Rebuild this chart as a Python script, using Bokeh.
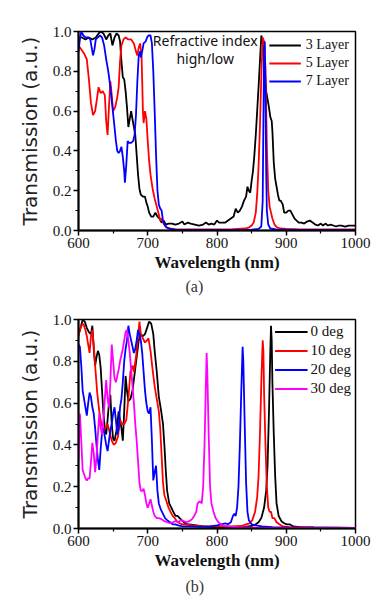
from bokeh.plotting import figure
from bokeh.layouts import column
from bokeh.models import (FixedTicker, PrintfTickFormatter, Legend, LegendItem,
                          Label, Title, Range1d)
from bokeh.embed import file_html
from bokeh.resources import INLINE

# ---------------- data: panel (a) ----------------
a_black_x = [600,605,610,615,620,625,629,632,636,640,643,646,649,652,655,658,660,662,664,666,668,670,672,674,676,678,680,682,684,686,688,690,693,696,698,700,702,705,708,711,714,717,720,723,726,730,735,740,745,750,753,758,762,768,774,780,784,788,792,796,800,803,808,812,816,820,824,827,830,833,836,839,842,844,846,848,850,852,854,856,858,860,862,864,865,867,869,871,873,875,877,879,880,882,884,886,888,890,892,895,897,900,903,906,909,912,915,918,922,926,930,934,938,942,946,950,953,957,960,964,968,972,976,980,985,990,995,1000]
a_black_y = [0.97,0.97,0.96,0.97,0.96,0.97,0.99,1.0,0.99,0.96,0.98,0.99,0.93,0.97,0.99,0.98,0.95,0.85,0.77,0.76,0.70,0.62,0.52,0.56,0.60,0.56,0.52,0.48,0.38,0.28,0.21,0.18,0.17,0.17,0.14,0.12,0.09,0.07,0.07,0.09,0.07,0.06,0.04,0.05,0.03,0.035,0.035,0.03,0.035,0.045,0.03,0.04,0.035,0.03,0.025,0.03,0.04,0.03,0.035,0.03,0.05,0.04,0.04,0.04,0.05,0.06,0.07,0.11,0.09,0.10,0.12,0.15,0.17,0.22,0.20,0.19,0.25,0.30,0.38,0.48,0.60,0.72,0.85,0.98,0.96,0.92,0.80,0.70,0.66,0.62,0.57,0.55,0.50,0.34,0.26,0.22,0.18,0.15,0.15,0.13,0.09,0.09,0.10,0.10,0.08,0.06,0.05,0.04,0.04,0.035,0.045,0.05,0.04,0.03,0.025,0.035,0.025,0.035,0.025,0.03,0.025,0.02,0.025,0.025,0.02,0.025,0.025,0.025]

a_red_x = [600,604,608,612,615,618,621,624,627,629,632,635,638,640,642,644,646,648,650,653,656,658,660,662,665,668,672,676,680,683,685,687,689,691,692,693,694,696,698,700,702,704,707,710,713,716,718,720,722,725,728,732,740,760,800,820,830,840,846,850,853,856,858,860,862,864,866,868,870,871,872,874,876,878,880,883,887,892,900,920,950,1000]
a_red_y = [0.93,0.91,0.89,0.86,0.76,0.64,0.58,0.60,0.67,0.72,0.69,0.70,0.68,0.55,0.48,0.62,0.75,0.68,0.60,0.62,0.67,0.72,0.85,0.93,0.96,0.97,0.96,0.96,0.94,0.90,0.88,0.92,0.94,0.88,0.75,0.60,0.54,0.60,0.56,0.45,0.35,0.28,0.21,0.16,0.12,0.08,0.05,0.06,0.04,0.025,0.015,0.01,0.005,0.005,0.005,0.005,0.008,0.01,0.015,0.025,0.04,0.09,0.18,0.32,0.52,0.78,0.97,0.95,0.82,0.62,0.42,0.20,0.12,0.09,0.06,0.03,0.015,0.01,0.008,0.005,0.005,0.005]

a_blue_x = [600,602,604,607,610,614,617,619,621,623,625,628,631,634,637,640,643,646,649,652,654,656,658,660,662,664,666,667,669,671,673,676,679,681,683,685,687,689,690,692,694,697,699,701,704,706,708,710,712,714,716,718,720,722,724,727,732,740,780,820,850,860,864,866,867,868,869,870,871,872,874,877,885,920,1000]
a_blue_y = [0.90,0.96,1.0,0.98,0.97,0.97,0.96,0.92,0.88,0.91,0.96,0.97,0.98,0.97,0.93,0.86,0.80,0.72,0.62,0.52,0.45,0.40,0.39,0.40,0.42,0.37,0.30,0.24,0.33,0.45,0.44,0.44,0.45,0.48,0.58,0.75,0.88,0.90,0.87,0.90,0.94,0.95,0.97,0.98,0.98,0.94,0.80,0.60,0.38,0.20,0.13,0.11,0.10,0.05,0.03,0.015,0.008,0.004,0.003,0.003,0.004,0.008,0.02,0.15,0.55,0.90,0.95,0.70,0.30,0.10,0.03,0.01,0.005,0.003,0.003]

a_labels = ["3 Layer", "5 Layer", "7 Layer"]

# ---------------- data: panel (b) ----------------
b_0_x = [600,603,606,609,612,615,618,620,622,624,626,628,630,632,634,636,638,640,642,644,646,648,650,652,655,658,660,662,664,666,668,670,672,675,678,681,684,687,690,693,696,699,702,705,708,710,713,716,719,722,724,726,728,731,734,737,740,743,746,749,752,756,760,770,780,790,800,820,840,850,856,860,864,868,871,873,875,877,878,879,880,882,884,886,889,893,897,901,905,910,920,940,1000]
b_0_y = [0.93,0.96,1.0,0.99,0.96,0.94,0.93,0.97,0.86,0.78,0.82,0.85,0.83,0.77,0.66,0.55,0.48,0.45,0.52,0.60,0.64,0.50,0.43,0.42,0.47,0.56,0.52,0.48,0.42,0.56,0.73,0.66,0.61,0.62,0.66,0.74,0.82,0.90,0.93,0.92,0.93,0.96,0.99,0.98,0.93,0.85,0.75,0.63,0.57,0.50,0.40,0.28,0.18,0.12,0.10,0.08,0.06,0.06,0.05,0.04,0.03,0.02,0.02,0.015,0.01,0.008,0.006,0.006,0.008,0.012,0.02,0.03,0.05,0.10,0.18,0.30,0.55,0.85,0.97,0.90,0.70,0.45,0.25,0.12,0.06,0.035,0.025,0.02,0.02,0.01,0.006,0.005,0.003]

b_10_x = [600,602,604,607,610,612,614,616,618,620,622,624,627,630,633,636,639,642,645,648,651,654,657,660,663,666,669,672,675,678,680,683,686,688,690,693,696,699,701,704,707,710,713,716,718,720,722,724,727,730,733,736,739,742,746,750,755,765,780,800,820,835,842,847,851,855,858,860,862,864,866,867,868,870,872,874,876,878,880,883,886,890,895,905,940,1000]
b_10_y = [0.92,0.95,0.97,0.98,0.95,0.92,0.88,0.84,0.92,0.95,0.88,0.78,0.65,0.56,0.50,0.47,0.48,0.50,0.46,0.42,0.40,0.41,0.44,0.52,0.50,0.50,0.52,0.62,0.75,0.78,0.75,0.82,0.92,0.99,0.93,0.91,0.89,0.90,0.91,0.85,0.76,0.68,0.62,0.56,0.48,0.35,0.22,0.16,0.13,0.10,0.08,0.06,0.05,0.035,0.025,0.02,0.02,0.015,0.01,0.01,0.01,0.012,0.02,0.025,0.04,0.08,0.15,0.25,0.45,0.70,0.90,0.85,0.65,0.40,0.20,0.10,0.08,0.08,0.05,0.05,0.03,0.02,0.01,0.006,0.004,0.003]

b_20_x = [600,602,604,606,609,612,614,616,618,620,622,624,626,628,630,632,634,636,638,640,642,644,646,648,650,652,654,656,658,660,662,664,666,668,670,672,674,676,678,680,682,684,686,688,690,692,694,696,698,700,702,704,706,708,710,712,714,716,719,722,725,728,732,736,740,744,750,760,775,790,800,806,812,816,820,823,825,827,829,831,833,835,837,838,840,842,844,846,850,856,865,880,900,1000]
b_20_y = [0.88,0.87,0.78,0.66,0.60,0.54,0.60,0.65,0.63,0.58,0.55,0.48,0.40,0.33,0.28,0.38,0.46,0.48,0.44,0.40,0.37,0.42,0.47,0.50,0.55,0.58,0.52,0.45,0.48,0.58,0.62,0.70,0.80,0.86,0.90,0.97,0.93,0.90,0.87,0.84,0.86,0.90,0.95,0.93,0.90,0.84,0.75,0.66,0.60,0.56,0.55,0.58,0.42,0.23,0.27,0.30,0.18,0.12,0.09,0.07,0.05,0.04,0.03,0.02,0.02,0.015,0.01,0.01,0.008,0.01,0.015,0.02,0.025,0.02,0.03,0.06,0.07,0.06,0.10,0.20,0.40,0.65,0.87,0.80,0.50,0.22,0.08,0.04,0.02,0.015,0.01,0.006,0.005,0.003]

b_30_x = [600,601,602,604,606,608,610,612,614,616,618,620,622,624,626,628,630,632,634,636,638,640,642,644,646,648,650,652,654,656,658,660,662,664,666,668,670,672,674,676,678,680,682,684,686,688,690,692,694,696,698,700,702,704,706,708,710,713,716,720,724,728,732,736,740,744,748,752,756,760,764,767,770,772,775,778,780,782,784,785,786,788,790,792,795,798,802,808,815,830,860,1000]
b_30_y = [0.33,0.45,0.55,0.42,0.28,0.26,0.24,0.23,0.24,0.24,0.32,0.41,0.36,0.27,0.34,0.45,0.55,0.48,0.45,0.52,0.62,0.71,0.62,0.58,0.70,0.88,0.80,0.72,0.70,0.73,0.76,0.80,0.83,0.86,0.90,0.94,0.95,0.90,0.84,0.76,0.68,0.60,0.50,0.42,0.32,0.22,0.18,0.18,0.19,0.16,0.12,0.10,0.12,0.14,0.11,0.08,0.06,0.05,0.05,0.045,0.035,0.03,0.025,0.03,0.035,0.03,0.04,0.035,0.03,0.035,0.045,0.06,0.08,0.12,0.13,0.12,0.20,0.40,0.70,0.84,0.75,0.45,0.20,0.12,0.08,0.05,0.03,0.015,0.01,0.006,0.004,0.003]

b_labels = ["0 deg", "10 deg", "20 deg", "30 deg"]

x_ticks = [600, 700, 800, 900, 1000]
x_minor = [650, 750, 850, 950]
y_ticks = [0.0, 0.2, 0.4, 0.6, 0.8, 1.0]
y_minor = [0.1, 0.3, 0.5, 0.7, 0.9]

SERIF = "Liberation Serif"


def make_fig(width, height, left, right, top, bottom):
    p = figure(width=width, height=height,
               x_range=Range1d(600, 1000), y_range=Range1d(0, 1.0),
               output_backend="svg", toolbar_location=None,
               min_border_left=left, min_border_right=right,
               min_border_top=top, min_border_bottom=bottom)
    p.xgrid.visible = False
    p.ygrid.visible = False
    p.outline_line_color = "black"
    p.outline_line_width = 1.5
    p.outline_line_alpha = 1.0
    p.axis.axis_line_width = 2
    p.axis.axis_line_color = "black"
    p.axis.major_tick_out = 5
    p.axis.major_tick_in = 0
    p.axis.minor_tick_out = 3
    p.axis.minor_tick_in = 0
    p.axis.major_tick_line_width = 1.5
    p.axis.minor_tick_line_width = 1.2
    p.axis.major_tick_line_color = "black"
    p.axis.minor_tick_line_color = "black"
    p.axis.major_label_text_font = SERIF
    p.axis.major_label_text_font_size = "15px"
    p.axis.major_label_text_color = "#111111"
    p.axis.major_label_standoff = 2
    p.xaxis.ticker = FixedTicker(ticks=x_ticks, minor_ticks=x_minor)
    p.yaxis.ticker = FixedTicker(ticks=y_ticks, minor_ticks=y_minor)
    p.yaxis.formatter = PrintfTickFormatter(format="%.1f")
    p.xaxis.axis_label = "Wavelength (nm)"
    p.xaxis.axis_label_text_font = SERIF
    p.xaxis.axis_label_text_font_style = "bold"
    p.xaxis.axis_label_text_font_size = "17px"
    p.xaxis.axis_label_text_color = "#111111"
    p.xaxis.axis_label_standoff = 2
    p.yaxis.axis_label = "Transmission (a.u.)"
    p.yaxis.axis_label_text_font = "DejaVu Sans"
    p.yaxis.axis_label_text_font_style = "normal"
    p.yaxis.axis_label_text_font_size = "20px"
    p.yaxis.axis_label_text_color = "#222222"
    p.yaxis.axis_label_standoff = 8
    return p


# ---------------- panel (a) ----------------
pa = make_fig(392, 300, 78, 37, 31, 70)
ra = []
for xs, ys, col in [(a_black_x, a_black_y, "#000000"),
                    (a_red_x, a_red_y, "#ff0000"),
                    (a_blue_x, a_blue_y, "#0000ff")]:
    ra.append(pa.line(xs, ys, line_color=col, line_width=1.8))
leg_a = Legend(items=[LegendItem(label=l, renderers=[r]) for l, r in zip(a_labels, ra)],
               location="top_right", margin=0, padding=6, spacing=2,
               glyph_width=32, glyph_height=16, label_height=16, label_standoff=5,
               label_text_font=SERIF, label_text_font_size="14px",
               label_text_color="#111111",
               border_line_alpha=0, background_fill_alpha=0)
pa.add_layout(leg_a)
pa.add_layout(Label(x=783, y=0.955, text="Refractive index", text_align="center",
                    text_baseline="middle", text_font="Noto Sans",
                    text_font_size="14px", text_color="#111111"))
pa.add_layout(Label(x=783, y=0.865, text="high/low", text_align="center",
                    text_baseline="middle", text_font="Noto Sans",
                    text_font_size="14px", text_color="#111111"))
pa.add_layout(Title(text="(a)", align="left", offset=107, standoff=2,
                    text_font=SERIF, text_font_size="16px",
                    text_font_style="normal", text_color="#333333"), "below")

# ---------------- panel (b) ----------------
pb = make_fig(392, 302, 76, 32, 19, 74)
rb = []
for xs, ys, col in [(b_0_x, b_0_y, "#000000"),
                    (b_10_x, b_10_y, "#ff0000"),
                    (b_20_x, b_20_y, "#0000ff"),
                    (b_30_x, b_30_y, "#ff00ff")]:
    rb.append(pb.line(xs, ys, line_color=col, line_width=1.8))
leg_b = Legend(items=[LegendItem(label=l, renderers=[r]) for l, r in zip(b_labels, rb)],
               location="top_right", margin=0, padding=4, spacing=2,
               glyph_width=33, glyph_height=17, label_height=17, label_standoff=3,
               label_text_font=SERIF, label_text_font_size="15px",
               label_text_color="#111111",
               border_line_alpha=0, background_fill_alpha=0)
pb.add_layout(leg_b)
pb.add_layout(Title(text="(b)", align="left", offset=107, standoff=7,
                    text_font=SERIF, text_font_size="16px",
                    text_font_style="normal", text_color="#333333"), "below")

layout = column(pa, pb, spacing=0)
open("out.html", "w").write(file_html(layout, INLINE))
